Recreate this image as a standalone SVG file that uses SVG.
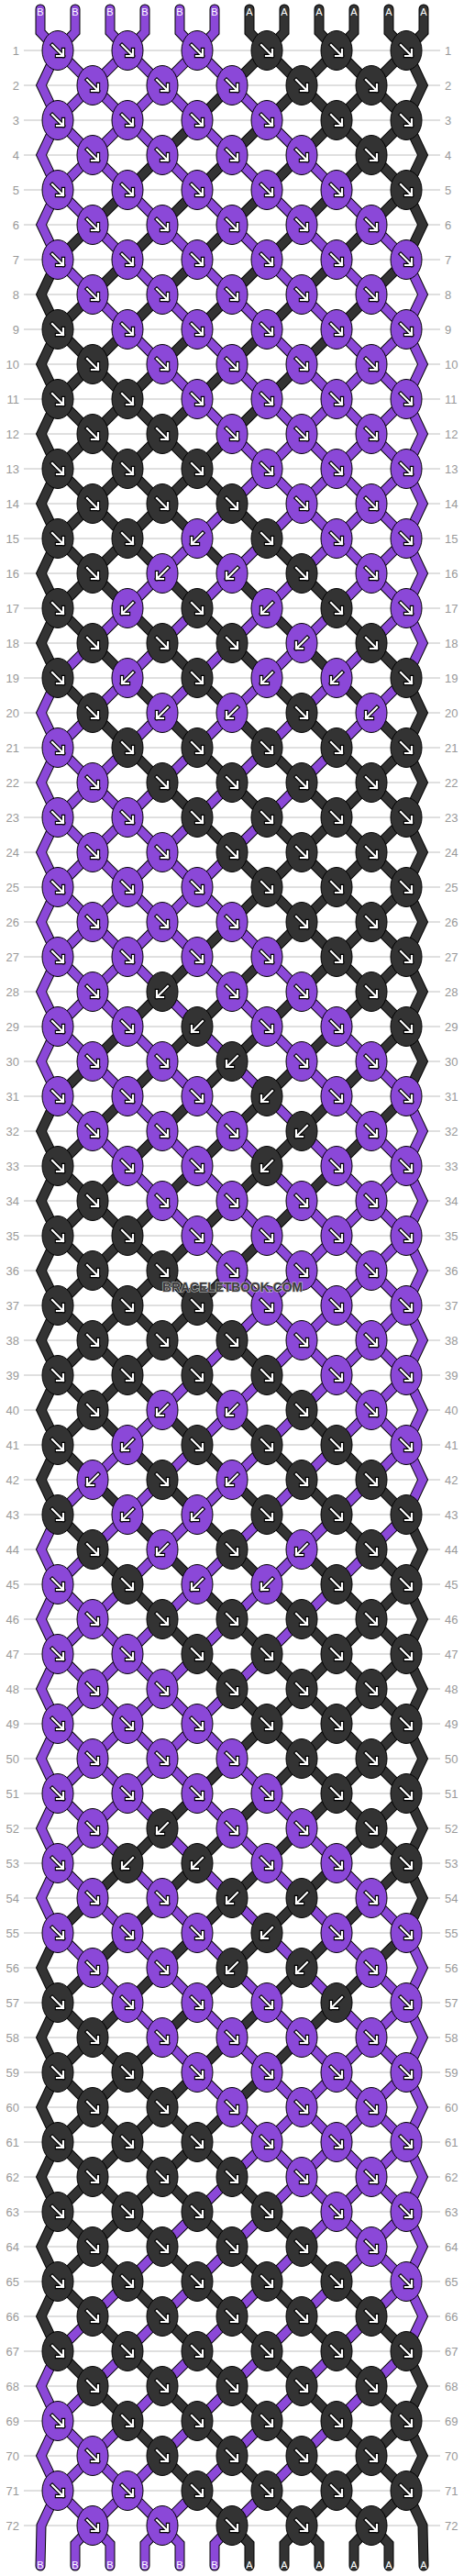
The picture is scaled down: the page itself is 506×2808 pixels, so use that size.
<svg xmlns="http://www.w3.org/2000/svg" width="506" height="2808" viewBox="0 0 506 2808">
<style>
.gl{stroke:#c0c0c0;stroke-width:1;fill:none}
.lb{font-family:"Liberation Sans",Arial,sans-serif;font-size:13px;fill:#999}
.le{text-anchor:end}
.so{fill:none;stroke:#000;stroke-width:11;stroke-linejoin:miter;stroke-linecap:round}
.sp{fill:none;stroke:#8b48d8;stroke-width:9;stroke-linejoin:miter;stroke-linecap:round}
.sd{fill:none;stroke:#333;stroke-width:9;stroke-linejoin:miter;stroke-linecap:round}
.p{fill:#8b48d8}
.d{fill:#333}
.ke{stroke:#000;stroke-width:1}
.ao{fill:none;stroke:#000;stroke-width:4.4;stroke-linecap:square}
.ai{fill:none;stroke:#fff;stroke-width:2.2;stroke-linecap:square}
.tl{font-family:"Liberation Sans",Arial,sans-serif;font-size:11px;fill:#fff;text-anchor:middle}
.wm{font-family:"Liberation Sans",Arial,sans-serif;font-size:14.5px;font-weight:bold;fill:#3c3c3c;stroke:#c8c8c8;stroke-width:1.2;paint-order:stroke;text-anchor:middle}
</style>
<defs>
<g id="R"><ellipse class="ke" rx="17" ry="21.5"/><path class="ao" d="M-6,-6L6,6M6,-1L6,6L-1,6"/><path class="ai" d="M-6,-6L6,6M6,-1L6,6L-1,6"/></g>
<g id="L"><ellipse class="ke" rx="17" ry="21.5"/><path class="ao" d="M6,-6L-6,6M-6,-1L-6,6L1,6"/><path class="ai" d="M6,-6L-6,6M-6,-1L-6,6L1,6"/></g>
<polyline id="s0" points="44,10 44,35 63,55 443,435 461,473 443,511 63,891 45,929 63,967 443,1347 461,1385 443,1423 63,1803 45,1841 63,1879 443,2259 461,2297 443,2335 63,2715 45,2753 44,2797"/>
<polyline id="s1" points="82,10 82,35 63,55 45,93 63,131 443,511 461,549 443,587 63,967 45,1005 63,1043 443,1423 461,1461 443,1499 63,1879 45,1917 63,1955 443,2335 461,2373 443,2411 101,2753 82,2773 82,2797"/>
<polyline id="s2" points="120,10 120,35 139,55 443,359 461,397 443,435 63,815 45,853 63,891 443,1271 461,1309 443,1347 63,1727 45,1765 63,1803 443,2183 461,2221 443,2259 63,2639 45,2677 63,2715 101,2753 120,2773 120,2797"/>
<polyline id="s3" points="158,10 158,35 139,55 63,131 45,169 63,207 443,587 461,625 443,663 63,1043 45,1081 63,1119 443,1499 461,1537 443,1575 63,1955 45,1993 63,2031 443,2411 461,2449 443,2487 177,2753 158,2773 158,2797"/>
<polyline id="s4" points="196,10 196,35 215,55 443,283 461,321 443,359 63,739 45,777 63,815 443,1195 461,1233 443,1271 63,1651 45,1689 63,1727 443,2107 461,2145 443,2183 63,2563 45,2601 63,2639 177,2753 196,2773 196,2797"/>
<polyline id="s5" points="234,10 234,35 215,55 63,207 45,245 63,283 443,663 461,701 443,739 63,1119 45,1157 63,1195 443,1575 461,1613 443,1651 63,2031 45,2069 63,2107 443,2487 461,2525 443,2563 253,2753 234,2773 234,2797"/>
<polyline id="s6" points="272,10 272,35 291,55 443,207 461,245 443,283 63,663 45,701 63,739 443,1119 461,1157 443,1195 63,1575 45,1613 63,1651 443,2031 461,2069 443,2107 63,2487 45,2525 63,2563 253,2753 272,2773 272,2797"/>
<polyline id="s7" points="310,10 310,35 291,55 63,283 45,321 63,359 443,739 461,777 443,815 63,1195 45,1233 63,1271 443,1651 461,1689 443,1727 63,2107 45,2145 63,2183 443,2563 461,2601 443,2639 329,2753 310,2773 310,2797"/>
<polyline id="s8" points="348,10 348,35 367,55 443,131 461,169 443,207 63,587 45,625 63,663 443,1043 461,1081 443,1119 63,1499 45,1537 63,1575 443,1955 461,1993 443,2031 63,2411 45,2449 63,2487 329,2753 348,2773 348,2797"/>
<polyline id="s9" points="386,10 386,35 367,55 63,359 45,397 63,435 443,815 461,853 443,891 63,1271 45,1309 63,1347 443,1727 461,1765 443,1803 63,2183 45,2221 63,2259 443,2639 461,2677 443,2715 405,2753 386,2773 386,2797"/>
<polyline id="s10" points="424,10 424,35 443,55 461,93 443,131 63,511 45,549 63,587 443,967 461,1005 443,1043 63,1423 45,1461 63,1499 443,1879 461,1917 443,1955 63,2335 45,2373 63,2411 405,2753 424,2773 424,2797"/>
<polyline id="s11" points="462,10 462,35 443,55 63,435 45,473 63,511 443,891 461,929 443,967 63,1347 45,1385 63,1423 443,1803 461,1841 443,1879 63,2259 45,2297 63,2335 443,2715 461,2753 462,2797"/>
</defs>
<rect width="506" height="2808" fill="#fff"/>
<g id="grid">
<path class="gl" d="M26 55H480M26 93H480M26 131H480M26 169H480M26 207H480M26 245H480M26 283H480M26 321H480M26 359H480M26 397H480M26 435H480M26 473H480M26 511H480M26 549H480M26 587H480M26 625H480M26 663H480M26 701H480M26 739H480M26 777H480M26 815H480M26 853H480M26 891H480M26 929H480M26 967H480M26 1005H480M26 1043H480M26 1081H480M26 1119H480M26 1157H480M26 1195H480M26 1233H480M26 1271H480M26 1309H480M26 1347H480M26 1385H480M26 1423H480M26 1461H480M26 1499H480M26 1537H480M26 1575H480M26 1613H480M26 1651H480M26 1689H480M26 1727H480M26 1765H480M26 1803H480M26 1841H480M26 1879H480M26 1917H480M26 1955H480M26 1993H480M26 2031H480M26 2069H480M26 2107H480M26 2145H480M26 2183H480M26 2221H480M26 2259H480M26 2297H480M26 2335H480M26 2373H480M26 2411H480M26 2449H480M26 2487H480M26 2525H480M26 2563H480M26 2601H480M26 2639H480M26 2677H480M26 2715H480M26 2753H480"/>
</g>
<g id="row-labels" class="lb">
<g class="le">
<text x="21" y="59.5">1</text><text x="21" y="97.5">2</text><text x="21" y="135.5">3</text><text x="21" y="173.5">4</text><text x="21" y="211.5">5</text><text x="21" y="249.5">6</text><text x="21" y="287.5">7</text><text x="21" y="325.5">8</text><text x="21" y="363.5">9</text><text x="21" y="401.5">10</text><text x="21" y="439.5">11</text><text x="21" y="477.5">12</text><text x="21" y="515.5">13</text><text x="21" y="553.5">14</text><text x="21" y="591.5">15</text><text x="21" y="629.5">16</text><text x="21" y="667.5">17</text><text x="21" y="705.5">18</text><text x="21" y="743.5">19</text><text x="21" y="781.5">20</text><text x="21" y="819.5">21</text><text x="21" y="857.5">22</text><text x="21" y="895.5">23</text><text x="21" y="933.5">24</text><text x="21" y="971.5">25</text><text x="21" y="1009.5">26</text><text x="21" y="1047.5">27</text><text x="21" y="1085.5">28</text><text x="21" y="1123.5">29</text><text x="21" y="1161.5">30</text><text x="21" y="1199.5">31</text><text x="21" y="1237.5">32</text><text x="21" y="1275.5">33</text><text x="21" y="1313.5">34</text><text x="21" y="1351.5">35</text><text x="21" y="1389.5">36</text><text x="21" y="1427.5">37</text><text x="21" y="1465.5">38</text><text x="21" y="1503.5">39</text><text x="21" y="1541.5">40</text><text x="21" y="1579.5">41</text><text x="21" y="1617.5">42</text><text x="21" y="1655.5">43</text><text x="21" y="1693.5">44</text><text x="21" y="1731.5">45</text><text x="21" y="1769.5">46</text><text x="21" y="1807.5">47</text><text x="21" y="1845.5">48</text><text x="21" y="1883.5">49</text><text x="21" y="1921.5">50</text><text x="21" y="1959.5">51</text><text x="21" y="1997.5">52</text><text x="21" y="2035.5">53</text><text x="21" y="2073.5">54</text><text x="21" y="2111.5">55</text><text x="21" y="2149.5">56</text><text x="21" y="2187.5">57</text><text x="21" y="2225.5">58</text><text x="21" y="2263.5">59</text><text x="21" y="2301.5">60</text><text x="21" y="2339.5">61</text><text x="21" y="2377.5">62</text><text x="21" y="2415.5">63</text><text x="21" y="2453.5">64</text><text x="21" y="2491.5">65</text><text x="21" y="2529.5">66</text><text x="21" y="2567.5">67</text><text x="21" y="2605.5">68</text><text x="21" y="2643.5">69</text><text x="21" y="2681.5">70</text><text x="21" y="2719.5">71</text><text x="21" y="2757.5">72</text>
</g>
<g>
<text x="485" y="59.5">1</text><text x="485" y="97.5">2</text><text x="485" y="135.5">3</text><text x="485" y="173.5">4</text><text x="485" y="211.5">5</text><text x="485" y="249.5">6</text><text x="485" y="287.5">7</text><text x="485" y="325.5">8</text><text x="485" y="363.5">9</text><text x="485" y="401.5">10</text><text x="485" y="439.5">11</text><text x="485" y="477.5">12</text><text x="485" y="515.5">13</text><text x="485" y="553.5">14</text><text x="485" y="591.5">15</text><text x="485" y="629.5">16</text><text x="485" y="667.5">17</text><text x="485" y="705.5">18</text><text x="485" y="743.5">19</text><text x="485" y="781.5">20</text><text x="485" y="819.5">21</text><text x="485" y="857.5">22</text><text x="485" y="895.5">23</text><text x="485" y="933.5">24</text><text x="485" y="971.5">25</text><text x="485" y="1009.5">26</text><text x="485" y="1047.5">27</text><text x="485" y="1085.5">28</text><text x="485" y="1123.5">29</text><text x="485" y="1161.5">30</text><text x="485" y="1199.5">31</text><text x="485" y="1237.5">32</text><text x="485" y="1275.5">33</text><text x="485" y="1313.5">34</text><text x="485" y="1351.5">35</text><text x="485" y="1389.5">36</text><text x="485" y="1427.5">37</text><text x="485" y="1465.5">38</text><text x="485" y="1503.5">39</text><text x="485" y="1541.5">40</text><text x="485" y="1579.5">41</text><text x="485" y="1617.5">42</text><text x="485" y="1655.5">43</text><text x="485" y="1693.5">44</text><text x="485" y="1731.5">45</text><text x="485" y="1769.5">46</text><text x="485" y="1807.5">47</text><text x="485" y="1845.5">48</text><text x="485" y="1883.5">49</text><text x="485" y="1921.5">50</text><text x="485" y="1959.5">51</text><text x="485" y="1997.5">52</text><text x="485" y="2035.5">53</text><text x="485" y="2073.5">54</text><text x="485" y="2111.5">55</text><text x="485" y="2149.5">56</text><text x="485" y="2187.5">57</text><text x="485" y="2225.5">58</text><text x="485" y="2263.5">59</text><text x="485" y="2301.5">60</text><text x="485" y="2339.5">61</text><text x="485" y="2377.5">62</text><text x="485" y="2415.5">63</text><text x="485" y="2453.5">64</text><text x="485" y="2491.5">65</text><text x="485" y="2529.5">66</text><text x="485" y="2567.5">67</text><text x="485" y="2605.5">68</text><text x="485" y="2643.5">69</text><text x="485" y="2681.5">70</text><text x="485" y="2719.5">71</text><text x="485" y="2757.5">72</text>
</g>
</g>
<g id="connectors">
<use href="#s0" class="so"/><use href="#s1" class="so"/><use href="#s2" class="so"/><use href="#s3" class="so"/><use href="#s4" class="so"/><use href="#s5" class="so"/><use href="#s6" class="so"/><use href="#s7" class="so"/><use href="#s8" class="so"/><use href="#s9" class="so"/><use href="#s10" class="so"/><use href="#s11" class="so"/>
<use href="#s0" class="sp"/><use href="#s1" class="sp"/><use href="#s2" class="sp"/><use href="#s3" class="sp"/><use href="#s4" class="sp"/><use href="#s5" class="sp"/><use href="#s6" class="sd"/><use href="#s7" class="sd"/><use href="#s8" class="sd"/><use href="#s9" class="sd"/><use href="#s10" class="sd"/><use href="#s11" class="sd"/>
</g>
<g id="string-labels" class="tl">
<text x="44" y="17">B</text><text x="82" y="17">B</text><text x="120" y="17">B</text><text x="158" y="17">B</text><text x="196" y="17">B</text><text x="234" y="17">B</text><text x="272" y="17">A</text><text x="310" y="17">A</text><text x="348" y="17">A</text><text x="386" y="17">A</text><text x="424" y="17">A</text><text x="462" y="17">A</text>
<text x="44" y="2800">B</text><text x="82" y="2800">B</text><text x="120" y="2800">B</text><text x="158" y="2800">B</text><text x="196" y="2800">B</text><text x="234" y="2800">B</text><text x="272" y="2800">A</text><text x="310" y="2800">A</text><text x="348" y="2800">A</text><text x="386" y="2800">A</text><text x="424" y="2800">A</text><text x="462" y="2800">A</text>
</g>
<g id="knots">
<g id="k1-1"><use href="#R" class="p" x="63" y="55"/></g><g id="k1-2"><use href="#R" class="p" x="139" y="55"/></g><g id="k1-3"><use href="#R" class="p" x="215" y="55"/></g><g id="k1-4"><use href="#R" class="d" x="291" y="55"/></g><g id="k1-5"><use href="#R" class="d" x="367" y="55"/></g><g id="k1-6"><use href="#R" class="d" x="443" y="55"/></g>
<g id="k2-1"><use href="#R" class="p" x="101" y="93"/></g><g id="k2-2"><use href="#R" class="p" x="177" y="93"/></g><g id="k2-3"><use href="#R" class="p" x="253" y="93"/></g><g id="k2-4"><use href="#R" class="d" x="329" y="93"/></g><g id="k2-5"><use href="#R" class="d" x="405" y="93"/></g>
<g id="k3-1"><use href="#R" class="p" x="63" y="131"/></g><g id="k3-2"><use href="#R" class="p" x="139" y="131"/></g><g id="k3-3"><use href="#R" class="p" x="215" y="131"/></g><g id="k3-4"><use href="#R" class="p" x="291" y="131"/></g><g id="k3-5"><use href="#R" class="d" x="367" y="131"/></g><g id="k3-6"><use href="#R" class="d" x="443" y="131"/></g>
<g id="k4-1"><use href="#R" class="p" x="101" y="169"/></g><g id="k4-2"><use href="#R" class="p" x="177" y="169"/></g><g id="k4-3"><use href="#R" class="p" x="253" y="169"/></g><g id="k4-4"><use href="#R" class="p" x="329" y="169"/></g><g id="k4-5"><use href="#R" class="d" x="405" y="169"/></g>
<g id="k5-1"><use href="#R" class="p" x="63" y="207"/></g><g id="k5-2"><use href="#R" class="p" x="139" y="207"/></g><g id="k5-3"><use href="#R" class="p" x="215" y="207"/></g><g id="k5-4"><use href="#R" class="p" x="291" y="207"/></g><g id="k5-5"><use href="#R" class="p" x="367" y="207"/></g><g id="k5-6"><use href="#R" class="d" x="443" y="207"/></g>
<g id="k6-1"><use href="#R" class="p" x="101" y="245"/></g><g id="k6-2"><use href="#R" class="p" x="177" y="245"/></g><g id="k6-3"><use href="#R" class="p" x="253" y="245"/></g><g id="k6-4"><use href="#R" class="p" x="329" y="245"/></g><g id="k6-5"><use href="#R" class="p" x="405" y="245"/></g>
<g id="k7-1"><use href="#R" class="p" x="63" y="283"/></g><g id="k7-2"><use href="#R" class="p" x="139" y="283"/></g><g id="k7-3"><use href="#R" class="p" x="215" y="283"/></g><g id="k7-4"><use href="#R" class="p" x="291" y="283"/></g><g id="k7-5"><use href="#R" class="p" x="367" y="283"/></g><g id="k7-6"><use href="#R" class="p" x="443" y="283"/></g>
<g id="k8-1"><use href="#R" class="p" x="101" y="321"/></g><g id="k8-2"><use href="#R" class="p" x="177" y="321"/></g><g id="k8-3"><use href="#R" class="p" x="253" y="321"/></g><g id="k8-4"><use href="#R" class="p" x="329" y="321"/></g><g id="k8-5"><use href="#R" class="p" x="405" y="321"/></g>
<g id="k9-1"><use href="#R" class="d" x="63" y="359"/></g><g id="k9-2"><use href="#R" class="p" x="139" y="359"/></g><g id="k9-3"><use href="#R" class="p" x="215" y="359"/></g><g id="k9-4"><use href="#R" class="p" x="291" y="359"/></g><g id="k9-5"><use href="#R" class="p" x="367" y="359"/></g><g id="k9-6"><use href="#R" class="p" x="443" y="359"/></g>
<g id="k10-1"><use href="#R" class="d" x="101" y="397"/></g><g id="k10-2"><use href="#R" class="p" x="177" y="397"/></g><g id="k10-3"><use href="#R" class="p" x="253" y="397"/></g><g id="k10-4"><use href="#R" class="p" x="329" y="397"/></g><g id="k10-5"><use href="#R" class="p" x="405" y="397"/></g>
<g id="k11-1"><use href="#R" class="d" x="63" y="435"/></g><g id="k11-2"><use href="#R" class="d" x="139" y="435"/></g><g id="k11-3"><use href="#R" class="p" x="215" y="435"/></g><g id="k11-4"><use href="#R" class="p" x="291" y="435"/></g><g id="k11-5"><use href="#R" class="p" x="367" y="435"/></g><g id="k11-6"><use href="#R" class="p" x="443" y="435"/></g>
<g id="k12-1"><use href="#R" class="d" x="101" y="473"/></g><g id="k12-2"><use href="#R" class="d" x="177" y="473"/></g><g id="k12-3"><use href="#R" class="p" x="253" y="473"/></g><g id="k12-4"><use href="#R" class="p" x="329" y="473"/></g><g id="k12-5"><use href="#R" class="p" x="405" y="473"/></g>
<g id="k13-1"><use href="#R" class="d" x="63" y="511"/></g><g id="k13-2"><use href="#R" class="d" x="139" y="511"/></g><g id="k13-3"><use href="#R" class="d" x="215" y="511"/></g><g id="k13-4"><use href="#R" class="p" x="291" y="511"/></g><g id="k13-5"><use href="#R" class="p" x="367" y="511"/></g><g id="k13-6"><use href="#R" class="p" x="443" y="511"/></g>
<g id="k14-1"><use href="#R" class="d" x="101" y="549"/></g><g id="k14-2"><use href="#R" class="d" x="177" y="549"/></g><g id="k14-3"><use href="#R" class="d" x="253" y="549"/></g><g id="k14-4"><use href="#R" class="p" x="329" y="549"/></g><g id="k14-5"><use href="#R" class="p" x="405" y="549"/></g>
<g id="k15-1"><use href="#R" class="d" x="63" y="587"/></g><g id="k15-2"><use href="#R" class="d" x="139" y="587"/></g><g id="k15-3"><use href="#L" class="p" x="215" y="587"/></g><g id="k15-4"><use href="#R" class="d" x="291" y="587"/></g><g id="k15-5"><use href="#R" class="p" x="367" y="587"/></g><g id="k15-6"><use href="#R" class="p" x="443" y="587"/></g>
<g id="k16-1"><use href="#R" class="d" x="101" y="625"/></g><g id="k16-2"><use href="#L" class="p" x="177" y="625"/></g><g id="k16-3"><use href="#L" class="p" x="253" y="625"/></g><g id="k16-4"><use href="#R" class="d" x="329" y="625"/></g><g id="k16-5"><use href="#R" class="p" x="405" y="625"/></g>
<g id="k17-1"><use href="#R" class="d" x="63" y="663"/></g><g id="k17-2"><use href="#L" class="p" x="139" y="663"/></g><g id="k17-3"><use href="#R" class="d" x="215" y="663"/></g><g id="k17-4"><use href="#L" class="p" x="291" y="663"/></g><g id="k17-5"><use href="#R" class="d" x="367" y="663"/></g><g id="k17-6"><use href="#R" class="p" x="443" y="663"/></g>
<g id="k18-1"><use href="#R" class="d" x="101" y="701"/></g><g id="k18-2"><use href="#R" class="d" x="177" y="701"/></g><g id="k18-3"><use href="#R" class="d" x="253" y="701"/></g><g id="k18-4"><use href="#L" class="p" x="329" y="701"/></g><g id="k18-5"><use href="#R" class="d" x="405" y="701"/></g>
<g id="k19-1"><use href="#R" class="d" x="63" y="739"/></g><g id="k19-2"><use href="#L" class="p" x="139" y="739"/></g><g id="k19-3"><use href="#R" class="d" x="215" y="739"/></g><g id="k19-4"><use href="#L" class="p" x="291" y="739"/></g><g id="k19-5"><use href="#L" class="p" x="367" y="739"/></g><g id="k19-6"><use href="#R" class="d" x="443" y="739"/></g>
<g id="k20-1"><use href="#R" class="d" x="101" y="777"/></g><g id="k20-2"><use href="#L" class="p" x="177" y="777"/></g><g id="k20-3"><use href="#L" class="p" x="253" y="777"/></g><g id="k20-4"><use href="#R" class="d" x="329" y="777"/></g><g id="k20-5"><use href="#L" class="p" x="405" y="777"/></g>
<g id="k21-1"><use href="#R" class="p" x="63" y="815"/></g><g id="k21-2"><use href="#R" class="d" x="139" y="815"/></g><g id="k21-3"><use href="#R" class="d" x="215" y="815"/></g><g id="k21-4"><use href="#R" class="d" x="291" y="815"/></g><g id="k21-5"><use href="#R" class="d" x="367" y="815"/></g><g id="k21-6"><use href="#R" class="d" x="443" y="815"/></g>
<g id="k22-1"><use href="#R" class="p" x="101" y="853"/></g><g id="k22-2"><use href="#R" class="d" x="177" y="853"/></g><g id="k22-3"><use href="#R" class="d" x="253" y="853"/></g><g id="k22-4"><use href="#R" class="d" x="329" y="853"/></g><g id="k22-5"><use href="#R" class="d" x="405" y="853"/></g>
<g id="k23-1"><use href="#R" class="p" x="63" y="891"/></g><g id="k23-2"><use href="#R" class="p" x="139" y="891"/></g><g id="k23-3"><use href="#R" class="d" x="215" y="891"/></g><g id="k23-4"><use href="#R" class="d" x="291" y="891"/></g><g id="k23-5"><use href="#R" class="d" x="367" y="891"/></g><g id="k23-6"><use href="#R" class="d" x="443" y="891"/></g>
<g id="k24-1"><use href="#R" class="p" x="101" y="929"/></g><g id="k24-2"><use href="#R" class="p" x="177" y="929"/></g><g id="k24-3"><use href="#R" class="d" x="253" y="929"/></g><g id="k24-4"><use href="#R" class="d" x="329" y="929"/></g><g id="k24-5"><use href="#R" class="d" x="405" y="929"/></g>
<g id="k25-1"><use href="#R" class="p" x="63" y="967"/></g><g id="k25-2"><use href="#R" class="p" x="139" y="967"/></g><g id="k25-3"><use href="#R" class="p" x="215" y="967"/></g><g id="k25-4"><use href="#R" class="d" x="291" y="967"/></g><g id="k25-5"><use href="#R" class="d" x="367" y="967"/></g><g id="k25-6"><use href="#R" class="d" x="443" y="967"/></g>
<g id="k26-1"><use href="#R" class="p" x="101" y="1005"/></g><g id="k26-2"><use href="#R" class="p" x="177" y="1005"/></g><g id="k26-3"><use href="#R" class="p" x="253" y="1005"/></g><g id="k26-4"><use href="#R" class="d" x="329" y="1005"/></g><g id="k26-5"><use href="#R" class="d" x="405" y="1005"/></g>
<g id="k27-1"><use href="#R" class="p" x="63" y="1043"/></g><g id="k27-2"><use href="#R" class="p" x="139" y="1043"/></g><g id="k27-3"><use href="#R" class="p" x="215" y="1043"/></g><g id="k27-4"><use href="#R" class="p" x="291" y="1043"/></g><g id="k27-5"><use href="#R" class="d" x="367" y="1043"/></g><g id="k27-6"><use href="#R" class="d" x="443" y="1043"/></g>
<g id="k28-1"><use href="#R" class="p" x="101" y="1081"/></g><g id="k28-2"><use href="#L" class="d" x="177" y="1081"/></g><g id="k28-3"><use href="#R" class="p" x="253" y="1081"/></g><g id="k28-4"><use href="#R" class="p" x="329" y="1081"/></g><g id="k28-5"><use href="#R" class="d" x="405" y="1081"/></g>
<g id="k29-1"><use href="#R" class="p" x="63" y="1119"/></g><g id="k29-2"><use href="#R" class="p" x="139" y="1119"/></g><g id="k29-3"><use href="#L" class="d" x="215" y="1119"/></g><g id="k29-4"><use href="#R" class="p" x="291" y="1119"/></g><g id="k29-5"><use href="#R" class="p" x="367" y="1119"/></g><g id="k29-6"><use href="#R" class="d" x="443" y="1119"/></g>
<g id="k30-1"><use href="#R" class="p" x="101" y="1157"/></g><g id="k30-2"><use href="#R" class="p" x="177" y="1157"/></g><g id="k30-3"><use href="#L" class="d" x="253" y="1157"/></g><g id="k30-4"><use href="#R" class="p" x="329" y="1157"/></g><g id="k30-5"><use href="#R" class="p" x="405" y="1157"/></g>
<g id="k31-1"><use href="#R" class="p" x="63" y="1195"/></g><g id="k31-2"><use href="#R" class="p" x="139" y="1195"/></g><g id="k31-3"><use href="#R" class="p" x="215" y="1195"/></g><g id="k31-4"><use href="#L" class="d" x="291" y="1195"/></g><g id="k31-5"><use href="#R" class="p" x="367" y="1195"/></g><g id="k31-6"><use href="#R" class="p" x="443" y="1195"/></g>
<g id="k32-1"><use href="#R" class="p" x="101" y="1233"/></g><g id="k32-2"><use href="#R" class="p" x="177" y="1233"/></g><g id="k32-3"><use href="#R" class="p" x="253" y="1233"/></g><g id="k32-4"><use href="#L" class="d" x="329" y="1233"/></g><g id="k32-5"><use href="#R" class="p" x="405" y="1233"/></g>
<g id="k33-1"><use href="#R" class="d" x="63" y="1271"/></g><g id="k33-2"><use href="#R" class="p" x="139" y="1271"/></g><g id="k33-3"><use href="#R" class="p" x="215" y="1271"/></g><g id="k33-4"><use href="#L" class="d" x="291" y="1271"/></g><g id="k33-5"><use href="#R" class="p" x="367" y="1271"/></g><g id="k33-6"><use href="#R" class="p" x="443" y="1271"/></g>
<g id="k34-1"><use href="#R" class="d" x="101" y="1309"/></g><g id="k34-2"><use href="#R" class="p" x="177" y="1309"/></g><g id="k34-3"><use href="#R" class="p" x="253" y="1309"/></g><g id="k34-4"><use href="#R" class="p" x="329" y="1309"/></g><g id="k34-5"><use href="#R" class="p" x="405" y="1309"/></g>
<g id="k35-1"><use href="#R" class="d" x="63" y="1347"/></g><g id="k35-2"><use href="#R" class="d" x="139" y="1347"/></g><g id="k35-3"><use href="#R" class="p" x="215" y="1347"/></g><g id="k35-4"><use href="#R" class="p" x="291" y="1347"/></g><g id="k35-5"><use href="#R" class="p" x="367" y="1347"/></g><g id="k35-6"><use href="#R" class="p" x="443" y="1347"/></g>
<g id="k36-1"><use href="#R" class="d" x="101" y="1385"/></g><g id="k36-2"><use href="#R" class="d" x="177" y="1385"/></g><g id="k36-3"><use href="#R" class="p" x="253" y="1385"/></g><g id="k36-4"><use href="#R" class="p" x="329" y="1385"/></g><g id="k36-5"><use href="#R" class="p" x="405" y="1385"/></g>
<g id="k37-1"><use href="#R" class="d" x="63" y="1423"/></g><g id="k37-2"><use href="#R" class="d" x="139" y="1423"/></g><g id="k37-3"><use href="#R" class="d" x="215" y="1423"/></g><g id="k37-4"><use href="#R" class="p" x="291" y="1423"/></g><g id="k37-5"><use href="#R" class="p" x="367" y="1423"/></g><g id="k37-6"><use href="#R" class="p" x="443" y="1423"/></g>
<g id="k38-1"><use href="#R" class="d" x="101" y="1461"/></g><g id="k38-2"><use href="#R" class="d" x="177" y="1461"/></g><g id="k38-3"><use href="#R" class="d" x="253" y="1461"/></g><g id="k38-4"><use href="#R" class="p" x="329" y="1461"/></g><g id="k38-5"><use href="#R" class="p" x="405" y="1461"/></g>
<g id="k39-1"><use href="#R" class="d" x="63" y="1499"/></g><g id="k39-2"><use href="#R" class="d" x="139" y="1499"/></g><g id="k39-3"><use href="#R" class="d" x="215" y="1499"/></g><g id="k39-4"><use href="#R" class="d" x="291" y="1499"/></g><g id="k39-5"><use href="#R" class="p" x="367" y="1499"/></g><g id="k39-6"><use href="#R" class="p" x="443" y="1499"/></g>
<g id="k40-1"><use href="#R" class="d" x="101" y="1537"/></g><g id="k40-2"><use href="#L" class="p" x="177" y="1537"/></g><g id="k40-3"><use href="#L" class="p" x="253" y="1537"/></g><g id="k40-4"><use href="#R" class="d" x="329" y="1537"/></g><g id="k40-5"><use href="#R" class="p" x="405" y="1537"/></g>
<g id="k41-1"><use href="#R" class="d" x="63" y="1575"/></g><g id="k41-2"><use href="#L" class="p" x="139" y="1575"/></g><g id="k41-3"><use href="#R" class="d" x="215" y="1575"/></g><g id="k41-4"><use href="#R" class="d" x="291" y="1575"/></g><g id="k41-5"><use href="#R" class="d" x="367" y="1575"/></g><g id="k41-6"><use href="#R" class="p" x="443" y="1575"/></g>
<g id="k42-1"><use href="#L" class="p" x="101" y="1613"/></g><g id="k42-2"><use href="#R" class="d" x="177" y="1613"/></g><g id="k42-3"><use href="#L" class="p" x="253" y="1613"/></g><g id="k42-4"><use href="#R" class="d" x="329" y="1613"/></g><g id="k42-5"><use href="#R" class="d" x="405" y="1613"/></g>
<g id="k43-1"><use href="#R" class="d" x="63" y="1651"/></g><g id="k43-2"><use href="#L" class="p" x="139" y="1651"/></g><g id="k43-3"><use href="#L" class="p" x="215" y="1651"/></g><g id="k43-4"><use href="#R" class="d" x="291" y="1651"/></g><g id="k43-5"><use href="#R" class="d" x="367" y="1651"/></g><g id="k43-6"><use href="#R" class="d" x="443" y="1651"/></g>
<g id="k44-1"><use href="#R" class="d" x="101" y="1689"/></g><g id="k44-2"><use href="#L" class="p" x="177" y="1689"/></g><g id="k44-3"><use href="#R" class="d" x="253" y="1689"/></g><g id="k44-4"><use href="#L" class="p" x="329" y="1689"/></g><g id="k44-5"><use href="#R" class="d" x="405" y="1689"/></g>
<g id="k45-1"><use href="#R" class="p" x="63" y="1727"/></g><g id="k45-2"><use href="#R" class="d" x="139" y="1727"/></g><g id="k45-3"><use href="#L" class="p" x="215" y="1727"/></g><g id="k45-4"><use href="#L" class="p" x="291" y="1727"/></g><g id="k45-5"><use href="#R" class="d" x="367" y="1727"/></g><g id="k45-6"><use href="#R" class="d" x="443" y="1727"/></g>
<g id="k46-1"><use href="#R" class="p" x="101" y="1765"/></g><g id="k46-2"><use href="#R" class="d" x="177" y="1765"/></g><g id="k46-3"><use href="#R" class="d" x="253" y="1765"/></g><g id="k46-4"><use href="#R" class="d" x="329" y="1765"/></g><g id="k46-5"><use href="#R" class="d" x="405" y="1765"/></g>
<g id="k47-1"><use href="#R" class="p" x="63" y="1803"/></g><g id="k47-2"><use href="#R" class="p" x="139" y="1803"/></g><g id="k47-3"><use href="#R" class="d" x="215" y="1803"/></g><g id="k47-4"><use href="#R" class="d" x="291" y="1803"/></g><g id="k47-5"><use href="#R" class="d" x="367" y="1803"/></g><g id="k47-6"><use href="#R" class="d" x="443" y="1803"/></g>
<g id="k48-1"><use href="#R" class="p" x="101" y="1841"/></g><g id="k48-2"><use href="#R" class="p" x="177" y="1841"/></g><g id="k48-3"><use href="#R" class="d" x="253" y="1841"/></g><g id="k48-4"><use href="#R" class="d" x="329" y="1841"/></g><g id="k48-5"><use href="#R" class="d" x="405" y="1841"/></g>
<g id="k49-1"><use href="#R" class="p" x="63" y="1879"/></g><g id="k49-2"><use href="#R" class="p" x="139" y="1879"/></g><g id="k49-3"><use href="#R" class="p" x="215" y="1879"/></g><g id="k49-4"><use href="#R" class="d" x="291" y="1879"/></g><g id="k49-5"><use href="#R" class="d" x="367" y="1879"/></g><g id="k49-6"><use href="#R" class="d" x="443" y="1879"/></g>
<g id="k50-1"><use href="#R" class="p" x="101" y="1917"/></g><g id="k50-2"><use href="#R" class="p" x="177" y="1917"/></g><g id="k50-3"><use href="#R" class="p" x="253" y="1917"/></g><g id="k50-4"><use href="#R" class="d" x="329" y="1917"/></g><g id="k50-5"><use href="#R" class="d" x="405" y="1917"/></g>
<g id="k51-1"><use href="#R" class="p" x="63" y="1955"/></g><g id="k51-2"><use href="#R" class="p" x="139" y="1955"/></g><g id="k51-3"><use href="#R" class="p" x="215" y="1955"/></g><g id="k51-4"><use href="#R" class="p" x="291" y="1955"/></g><g id="k51-5"><use href="#R" class="d" x="367" y="1955"/></g><g id="k51-6"><use href="#R" class="d" x="443" y="1955"/></g>
<g id="k52-1"><use href="#R" class="p" x="101" y="1993"/></g><g id="k52-2"><use href="#L" class="d" x="177" y="1993"/></g><g id="k52-3"><use href="#R" class="p" x="253" y="1993"/></g><g id="k52-4"><use href="#R" class="p" x="329" y="1993"/></g><g id="k52-5"><use href="#R" class="d" x="405" y="1993"/></g>
<g id="k53-1"><use href="#R" class="p" x="63" y="2031"/></g><g id="k53-2"><use href="#L" class="d" x="139" y="2031"/></g><g id="k53-3"><use href="#L" class="d" x="215" y="2031"/></g><g id="k53-4"><use href="#R" class="p" x="291" y="2031"/></g><g id="k53-5"><use href="#R" class="p" x="367" y="2031"/></g><g id="k53-6"><use href="#R" class="d" x="443" y="2031"/></g>
<g id="k54-1"><use href="#R" class="p" x="101" y="2069"/></g><g id="k54-2"><use href="#R" class="p" x="177" y="2069"/></g><g id="k54-3"><use href="#L" class="d" x="253" y="2069"/></g><g id="k54-4"><use href="#L" class="d" x="329" y="2069"/></g><g id="k54-5"><use href="#R" class="p" x="405" y="2069"/></g>
<g id="k55-1"><use href="#R" class="p" x="63" y="2107"/></g><g id="k55-2"><use href="#R" class="p" x="139" y="2107"/></g><g id="k55-3"><use href="#R" class="p" x="215" y="2107"/></g><g id="k55-4"><use href="#L" class="d" x="291" y="2107"/></g><g id="k55-5"><use href="#R" class="p" x="367" y="2107"/></g><g id="k55-6"><use href="#R" class="p" x="443" y="2107"/></g>
<g id="k56-1"><use href="#R" class="p" x="101" y="2145"/></g><g id="k56-2"><use href="#R" class="p" x="177" y="2145"/></g><g id="k56-3"><use href="#L" class="d" x="253" y="2145"/></g><g id="k56-4"><use href="#L" class="d" x="329" y="2145"/></g><g id="k56-5"><use href="#R" class="p" x="405" y="2145"/></g>
<g id="k57-1"><use href="#R" class="d" x="63" y="2183"/></g><g id="k57-2"><use href="#R" class="p" x="139" y="2183"/></g><g id="k57-3"><use href="#R" class="p" x="215" y="2183"/></g><g id="k57-4"><use href="#R" class="p" x="291" y="2183"/></g><g id="k57-5"><use href="#L" class="d" x="367" y="2183"/></g><g id="k57-6"><use href="#R" class="p" x="443" y="2183"/></g>
<g id="k58-1"><use href="#R" class="d" x="101" y="2221"/></g><g id="k58-2"><use href="#R" class="p" x="177" y="2221"/></g><g id="k58-3"><use href="#R" class="p" x="253" y="2221"/></g><g id="k58-4"><use href="#R" class="p" x="329" y="2221"/></g><g id="k58-5"><use href="#R" class="p" x="405" y="2221"/></g>
<g id="k59-1"><use href="#R" class="d" x="63" y="2259"/></g><g id="k59-2"><use href="#R" class="d" x="139" y="2259"/></g><g id="k59-3"><use href="#R" class="p" x="215" y="2259"/></g><g id="k59-4"><use href="#R" class="p" x="291" y="2259"/></g><g id="k59-5"><use href="#R" class="p" x="367" y="2259"/></g><g id="k59-6"><use href="#R" class="p" x="443" y="2259"/></g>
<g id="k60-1"><use href="#R" class="d" x="101" y="2297"/></g><g id="k60-2"><use href="#R" class="d" x="177" y="2297"/></g><g id="k60-3"><use href="#R" class="p" x="253" y="2297"/></g><g id="k60-4"><use href="#R" class="p" x="329" y="2297"/></g><g id="k60-5"><use href="#R" class="p" x="405" y="2297"/></g>
<g id="k61-1"><use href="#R" class="d" x="63" y="2335"/></g><g id="k61-2"><use href="#R" class="d" x="139" y="2335"/></g><g id="k61-3"><use href="#R" class="d" x="215" y="2335"/></g><g id="k61-4"><use href="#R" class="p" x="291" y="2335"/></g><g id="k61-5"><use href="#R" class="p" x="367" y="2335"/></g><g id="k61-6"><use href="#R" class="p" x="443" y="2335"/></g>
<g id="k62-1"><use href="#R" class="d" x="101" y="2373"/></g><g id="k62-2"><use href="#R" class="d" x="177" y="2373"/></g><g id="k62-3"><use href="#R" class="d" x="253" y="2373"/></g><g id="k62-4"><use href="#R" class="p" x="329" y="2373"/></g><g id="k62-5"><use href="#R" class="p" x="405" y="2373"/></g>
<g id="k63-1"><use href="#R" class="d" x="63" y="2411"/></g><g id="k63-2"><use href="#R" class="d" x="139" y="2411"/></g><g id="k63-3"><use href="#R" class="d" x="215" y="2411"/></g><g id="k63-4"><use href="#R" class="d" x="291" y="2411"/></g><g id="k63-5"><use href="#R" class="p" x="367" y="2411"/></g><g id="k63-6"><use href="#R" class="p" x="443" y="2411"/></g>
<g id="k64-1"><use href="#R" class="d" x="101" y="2449"/></g><g id="k64-2"><use href="#R" class="d" x="177" y="2449"/></g><g id="k64-3"><use href="#R" class="d" x="253" y="2449"/></g><g id="k64-4"><use href="#R" class="d" x="329" y="2449"/></g><g id="k64-5"><use href="#R" class="p" x="405" y="2449"/></g>
<g id="k65-1"><use href="#R" class="d" x="63" y="2487"/></g><g id="k65-2"><use href="#R" class="d" x="139" y="2487"/></g><g id="k65-3"><use href="#R" class="d" x="215" y="2487"/></g><g id="k65-4"><use href="#R" class="d" x="291" y="2487"/></g><g id="k65-5"><use href="#R" class="d" x="367" y="2487"/></g><g id="k65-6"><use href="#R" class="p" x="443" y="2487"/></g>
<g id="k66-1"><use href="#R" class="d" x="101" y="2525"/></g><g id="k66-2"><use href="#R" class="d" x="177" y="2525"/></g><g id="k66-3"><use href="#R" class="d" x="253" y="2525"/></g><g id="k66-4"><use href="#R" class="d" x="329" y="2525"/></g><g id="k66-5"><use href="#R" class="d" x="405" y="2525"/></g>
<g id="k67-1"><use href="#R" class="d" x="63" y="2563"/></g><g id="k67-2"><use href="#R" class="d" x="139" y="2563"/></g><g id="k67-3"><use href="#R" class="d" x="215" y="2563"/></g><g id="k67-4"><use href="#R" class="d" x="291" y="2563"/></g><g id="k67-5"><use href="#R" class="d" x="367" y="2563"/></g><g id="k67-6"><use href="#R" class="d" x="443" y="2563"/></g>
<g id="k68-1"><use href="#R" class="d" x="101" y="2601"/></g><g id="k68-2"><use href="#R" class="d" x="177" y="2601"/></g><g id="k68-3"><use href="#R" class="d" x="253" y="2601"/></g><g id="k68-4"><use href="#R" class="d" x="329" y="2601"/></g><g id="k68-5"><use href="#R" class="d" x="405" y="2601"/></g>
<g id="k69-1"><use href="#R" class="p" x="63" y="2639"/></g><g id="k69-2"><use href="#R" class="d" x="139" y="2639"/></g><g id="k69-3"><use href="#R" class="d" x="215" y="2639"/></g><g id="k69-4"><use href="#R" class="d" x="291" y="2639"/></g><g id="k69-5"><use href="#R" class="d" x="367" y="2639"/></g><g id="k69-6"><use href="#R" class="d" x="443" y="2639"/></g>
<g id="k70-1"><use href="#R" class="p" x="101" y="2677"/></g><g id="k70-2"><use href="#R" class="d" x="177" y="2677"/></g><g id="k70-3"><use href="#R" class="d" x="253" y="2677"/></g><g id="k70-4"><use href="#R" class="d" x="329" y="2677"/></g><g id="k70-5"><use href="#R" class="d" x="405" y="2677"/></g>
<g id="k71-1"><use href="#R" class="p" x="63" y="2715"/></g><g id="k71-2"><use href="#R" class="p" x="139" y="2715"/></g><g id="k71-3"><use href="#R" class="d" x="215" y="2715"/></g><g id="k71-4"><use href="#R" class="d" x="291" y="2715"/></g><g id="k71-5"><use href="#R" class="d" x="367" y="2715"/></g><g id="k71-6"><use href="#R" class="d" x="443" y="2715"/></g>
<g id="k72-1"><use href="#R" class="p" x="101" y="2753"/></g><g id="k72-2"><use href="#R" class="p" x="177" y="2753"/></g><g id="k72-3"><use href="#R" class="d" x="253" y="2753"/></g><g id="k72-4"><use href="#R" class="d" x="329" y="2753"/></g><g id="k72-5"><use href="#R" class="d" x="405" y="2753"/></g>
</g>
<text class="wm" x="253.5" y="1408" textLength="153" lengthAdjust="spacingAndGlyphs">BRACELETBOOK.COM</text>
</svg>
